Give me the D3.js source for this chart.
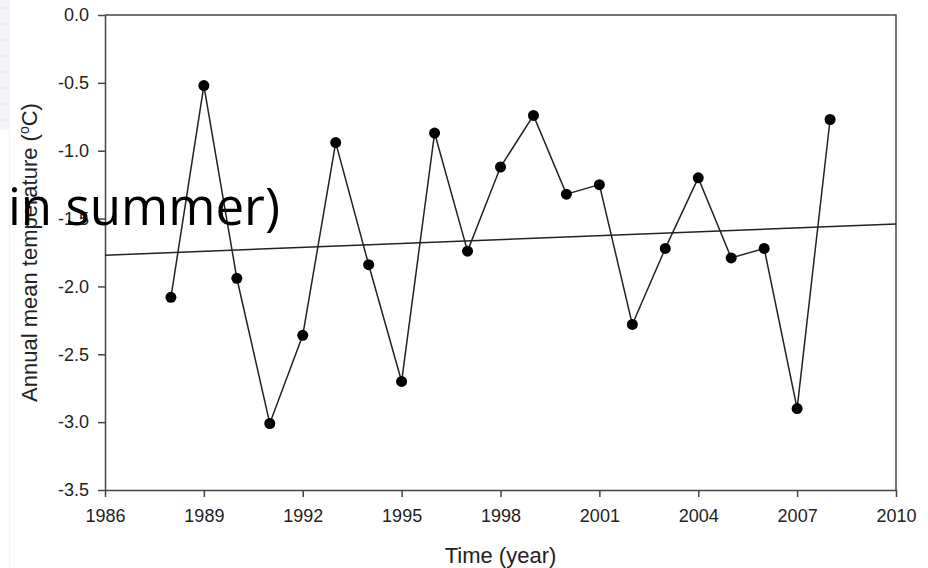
<!DOCTYPE html>
<html>
<head>
<meta charset="utf-8">
<script src="https://cdn.jsdelivr.net/npm/d3@7/dist/d3.min.js"></script>
<style>
  html, body { margin: 0; padding: 0; background: #fff; }
  svg { display: block; }
</style>
</head>
<body>
<svg id="chart" width="928" height="568"></svg>
<script>
// ---- data ----
const years = [1988, 1989, 1990, 1991, 1992, 1993, 1994, 1995, 1996, 1997, 1998,
               1999, 2000, 2001, 2002, 2003, 2004, 2005, 2006, 2007, 2008];
const temps = [-2.08, -0.52, -1.94, -3.01, -2.36, -0.94, -1.84, -2.70, -0.87, -1.74, -1.12,
               -0.74, -1.32, -1.25, -2.28, -1.72, -1.20, -1.79, -1.72, -2.90, -0.77];
const trendYears = [1986, 2010];
const trendValues = [-1.77, -1.54];
const xTicks = [1986, 1989, 1992, 1995, 1998, 2001, 2004, 2007, 2010];
const yTicks = [-3.5, -3.0, -2.5, -2.0, -1.5, -1.0, -0.5, 0.0];
const xTitle = "Time (year)";
const yTitle = "Annual mean temperature (";
const overlayText = "in summer)";

// ---- layout ----
const mLeft = 105, mRight = 896, mTop = 15, mBottom = 490;
const svg = d3.select("#chart");
const ink = "#222";
const axisInk = "#444";

// faint artifact strip at the far left edge
const strip = svg.append("g");
strip.append("rect").attr("x", 0).attr("y", 0).attr("width", 9).attr("height", 130).attr("fill", "#f3f5f8");
strip.selectAll("line.h").data(d3.range(8)).join("line")
  .attr("x1", 0).attr("x2", 9)
  .attr("y1", d => 8 + d * 16).attr("y2", d => 8 + d * 16)
  .attr("stroke", "#e4e8ee").attr("stroke-width", 1);
strip.append("line").attr("x1", 9.5).attr("x2", 9.5).attr("y1", 0).attr("y2", 568)
  .attr("stroke", "#f1f2f4").attr("stroke-width", 1);

const x = d3.scaleLinear().domain([1986, 2010]).range([mLeft, mRight]);
const y = d3.scaleLinear().domain([-3.5, 0]).range([mBottom, mTop]);

const font = "'Liberation Sans', Arial, sans-serif";

// axes
const xAxis = d3.axisBottom(x).tickValues(xTicks).tickFormat(d3.format("d"))
  .tickSizeInner(7).tickSizeOuter(0).tickPadding(12);
const yAxis = d3.axisLeft(y).tickValues(yTicks).tickFormat(d => d.toFixed(1).replace("-0.0", "0.0"))
  .tickSizeInner(7).tickSizeOuter(0).tickPadding(9);

const gx = svg.append("g").attr("transform", `translate(0,${mBottom})`).call(xAxis);
const gy = svg.append("g").attr("transform", `translate(${mLeft},0)`).call(yAxis);
[gx, gy].forEach(g => {
  g.select(".domain").attr("stroke", axisInk).attr("stroke-width", 1.5);
  g.selectAll(".tick line").attr("stroke", axisInk).attr("stroke-width", 1.5);
  g.selectAll(".tick text").attr("fill", ink).style("font-family", font).style("font-size", "18px");
});

// frame top & right
svg.append("path")
  .attr("d", `M${mLeft},${mTop}H${mRight}V${mBottom}`)
  .attr("fill", "none").attr("stroke", axisInk).attr("stroke-width", 1.5);

// trend line
svg.append("line")
  .attr("x1", x(trendYears[0])).attr("y1", y(trendValues[0]))
  .attr("x2", x(trendYears[1])).attr("y2", y(trendValues[1]))
  .attr("stroke", ink).attr("stroke-width", 1.5);

// data line
const pts = years.map((yr, i) => [yr, temps[i]]);
svg.append("path")
  .datum(pts)
  .attr("fill", "none").attr("stroke", ink).attr("stroke-width", 1.5)
  .attr("d", d3.line().x(d => x(d[0])).y(d => y(d[1])));

svg.selectAll("circle.pt").data(pts).join("circle")
  .attr("class", "pt")
  .attr("cx", d => x(d[0])).attr("cy", d => y(d[1])).attr("r", 5.5)
  .attr("fill", "#000");

// axis titles
svg.append("text")
  .attr("x", (mLeft + mRight) / 2).attr("y", 563)
  .attr("text-anchor", "middle")
  .style("font-family", font).style("font-size", "22px").attr("fill", ink)
  .text(xTitle);

const yt = svg.append("text")
  .attr("transform", `translate(37,${(mTop + mBottom) / 2}) rotate(-90)`)
  .attr("text-anchor", "middle")
  .style("font-family", font).style("font-size", "22px").attr("fill", ink);
yt.append("tspan").text(yTitle);
yt.append("tspan").attr("dy", -8).style("font-size", "14px").text("o");
yt.append("tspan").attr("dy", 8).text("C)");

// overlay text
svg.append("text")
  .attr("x", 8).attr("y", 225)
  .style("font-family", "'Open Sans', 'Noto Sans', sans-serif").style("font-size", "51px")
  .attr("fill", "#000")
  .text(overlayText);
</script>
</body>
</html>
